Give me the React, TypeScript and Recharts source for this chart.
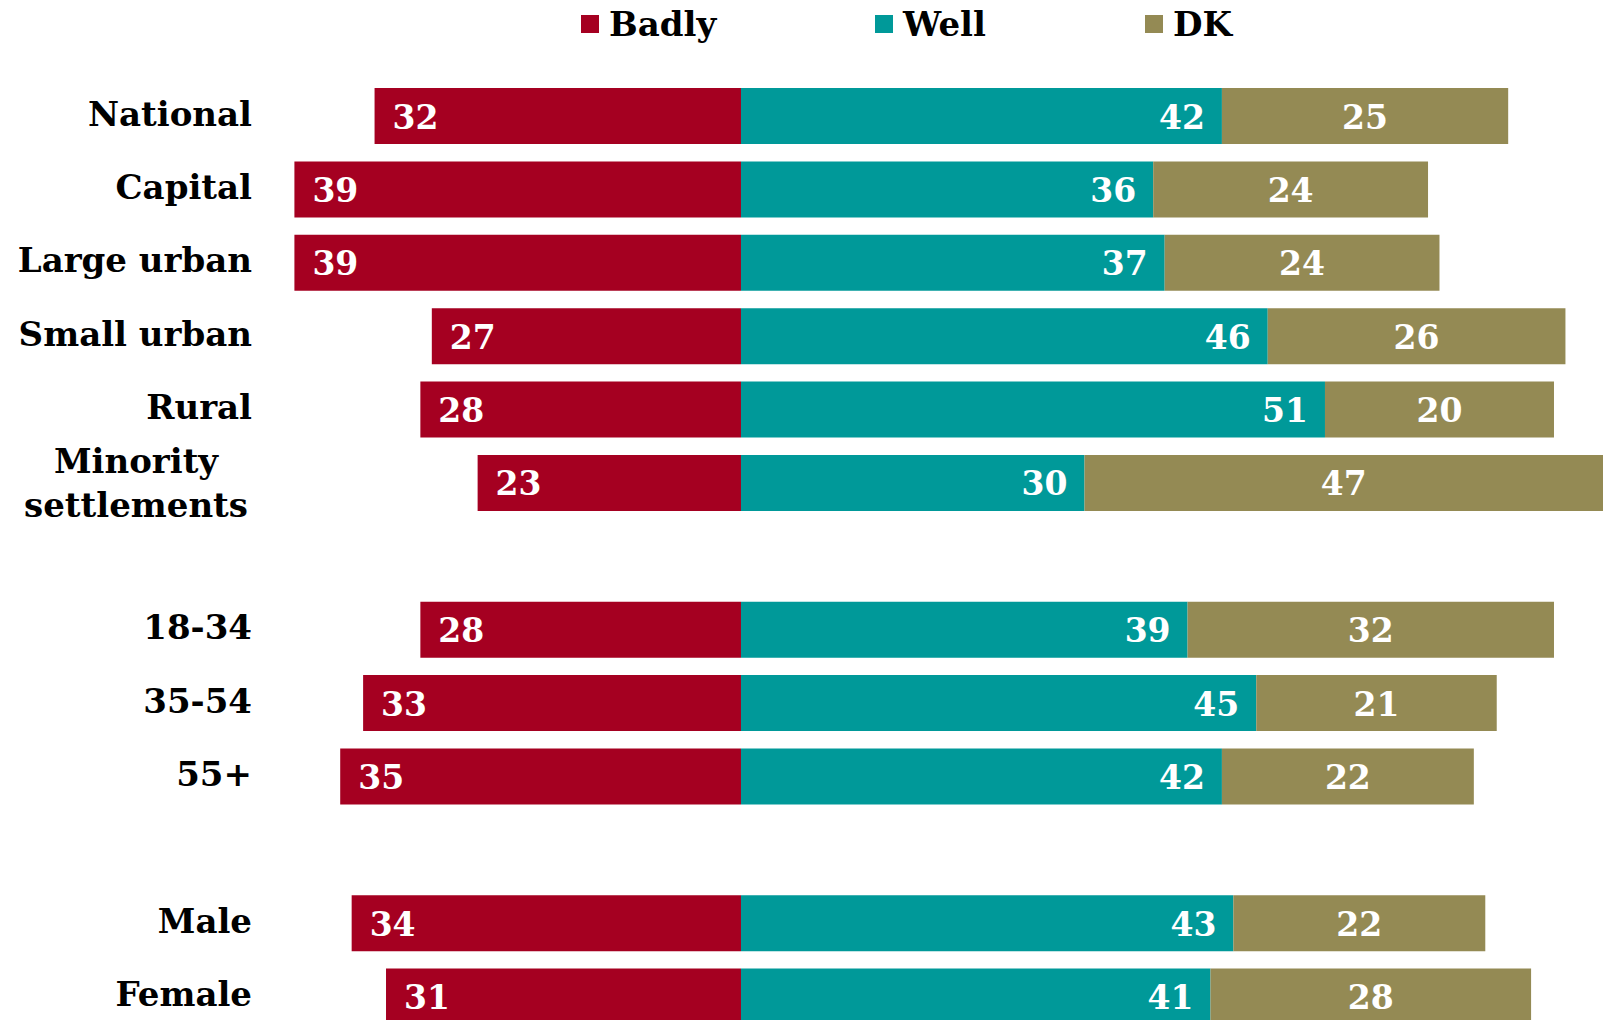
import { BarChart, Bar, XAxis, YAxis, LabelList, Legend } from "recharts";

const categories = [
  "National",
  "Capital",
  "Large urban",
  "Small urban",
  "Rural",
  "Minority\nsettlements",
  "",
  "18-34",
  "35-54",
  "55+",
  "",
  "Male",
  "Female",
];
const badly = [32, 39, 39, 27, 28, 23, null, 28, 33, 35, null, 34, 31];
const well = [42, 36, 37, 46, 51, 30, null, 39, 45, 42, null, 43, 41];
const dk = [25, 24, 24, 26, 20, 47, null, 32, 21, 22, null, 22, 28];

const seriesNames = ["Badly", "Well", "DK"];
const seriesColors = ["#A50021", "#009999", "#948A54"];

const FONT = "'DejaVu Serif', serif";

const data = categories.map((name, i) => ({
  name,
  badly: badly[i] == null ? null : -(badly[i] as number),
  well: well[i],
  dk: dk[i],
}));

function CategoryTick(props: any) {
  const { y, payload } = props;
  const lines = String(payload.value).split("\n").filter((s) => s);
  if (!lines.length) return null;
  if (lines.length === 1) {
    return (
      <text x={252} y={y - 2} textAnchor="end" dominantBaseline="central"
        fontFamily={FONT} fontWeight="bold" fontSize={34} fill="#000">
        {lines[0]}
      </text>
    );
  }
  return (
    <g>
      {lines.map((l, k) => (
        <text key={k} x={136} y={y + (k - (lines.length - 1) / 2) * 44}
          textAnchor="middle" dominantBaseline="central"
          fontFamily={FONT} fontWeight="bold" fontSize={34} fill="#000">
          {l}
        </text>
      ))}
    </g>
  );
}

function makeLabel(pos: "start" | "end" | "middle") {
  return (props: any) => {
    const { x, y, width, height, value } = props;
    if (value == null) return null;
    const left = Math.min(x, x + width);
    const right = Math.max(x, x + width);
    let tx = (left + right) / 2;
    if (pos === "start") tx = left + 18;
    if (pos === "end") tx = right - 17;
    if (pos === "middle") tx = (left + Math.min(right, 1603)) / 2;
    return (
      <text x={tx} y={y + height / 2 + 1} textAnchor={pos} dominantBaseline="central"
        fontFamily={FONT} fontWeight="bold" fontSize={33} fill="#fff">
        {Math.abs(value)}
      </text>
    );
  };
}

const legendX = [581, 875, 1145];

function LegendContent() {
  return (
    <div style={{ position: "relative", width: 1603, height: 50 }}>
      {seriesNames.map((n, i) => (
        <div key={n} style={{ position: "absolute", left: legendX[i], top: 2, display: "flex", alignItems: "center" }}>
          <span style={{ display: "inline-block", width: 18, height: 18, background: seriesColors[i], marginRight: 10 }} />
          <span style={{ fontFamily: FONT, fontWeight: "bold", fontSize: 34, color: "#000", lineHeight: "44px" }}>{n}</span>
        </div>
      ))}
    </div>
  );
}

export default function App() {
  return (
    <div style={{ position: "absolute", left: 0, top: 0, width: 1603, height: 1020, overflow: "hidden", background: "#fff" }}>
      <BarChart
        width={1603}
        height={1033}
        data={data}
        layout="vertical"
        stackOffset="sign"
        margin={{ top: 29, right: 0, bottom: 0, left: 0 }}
      >
        <XAxis type="number" hide domain={[-41.83, 75.28]} allowDataOverflow />
        <YAxis type="category" dataKey="name" width={262} axisLine={false} tickLine={false}
          interval={0} tick={<CategoryTick />} />
        <Legend verticalAlign="top" height={50} content={<LegendContent />}
          wrapperStyle={{ position: "absolute", top: 0, left: 0, width: 1603, height: 50 }} />
        <Bar dataKey="badly" name="Badly" stackId="a" fill={seriesColors[0]} barSize={56} isAnimationActive={false}>
          <LabelList dataKey="badly" content={makeLabel("start")} />
        </Bar>
        <Bar dataKey="well" name="Well" stackId="a" fill={seriesColors[1]} barSize={56} isAnimationActive={false}>
          <LabelList dataKey="well" content={makeLabel("end")} />
        </Bar>
        <Bar dataKey="dk" name="DK" stackId="a" fill={seriesColors[2]} barSize={56} isAnimationActive={false}>
          <LabelList dataKey="dk" content={makeLabel("middle")} />
        </Bar>
      </BarChart>
    </div>
  );
}
